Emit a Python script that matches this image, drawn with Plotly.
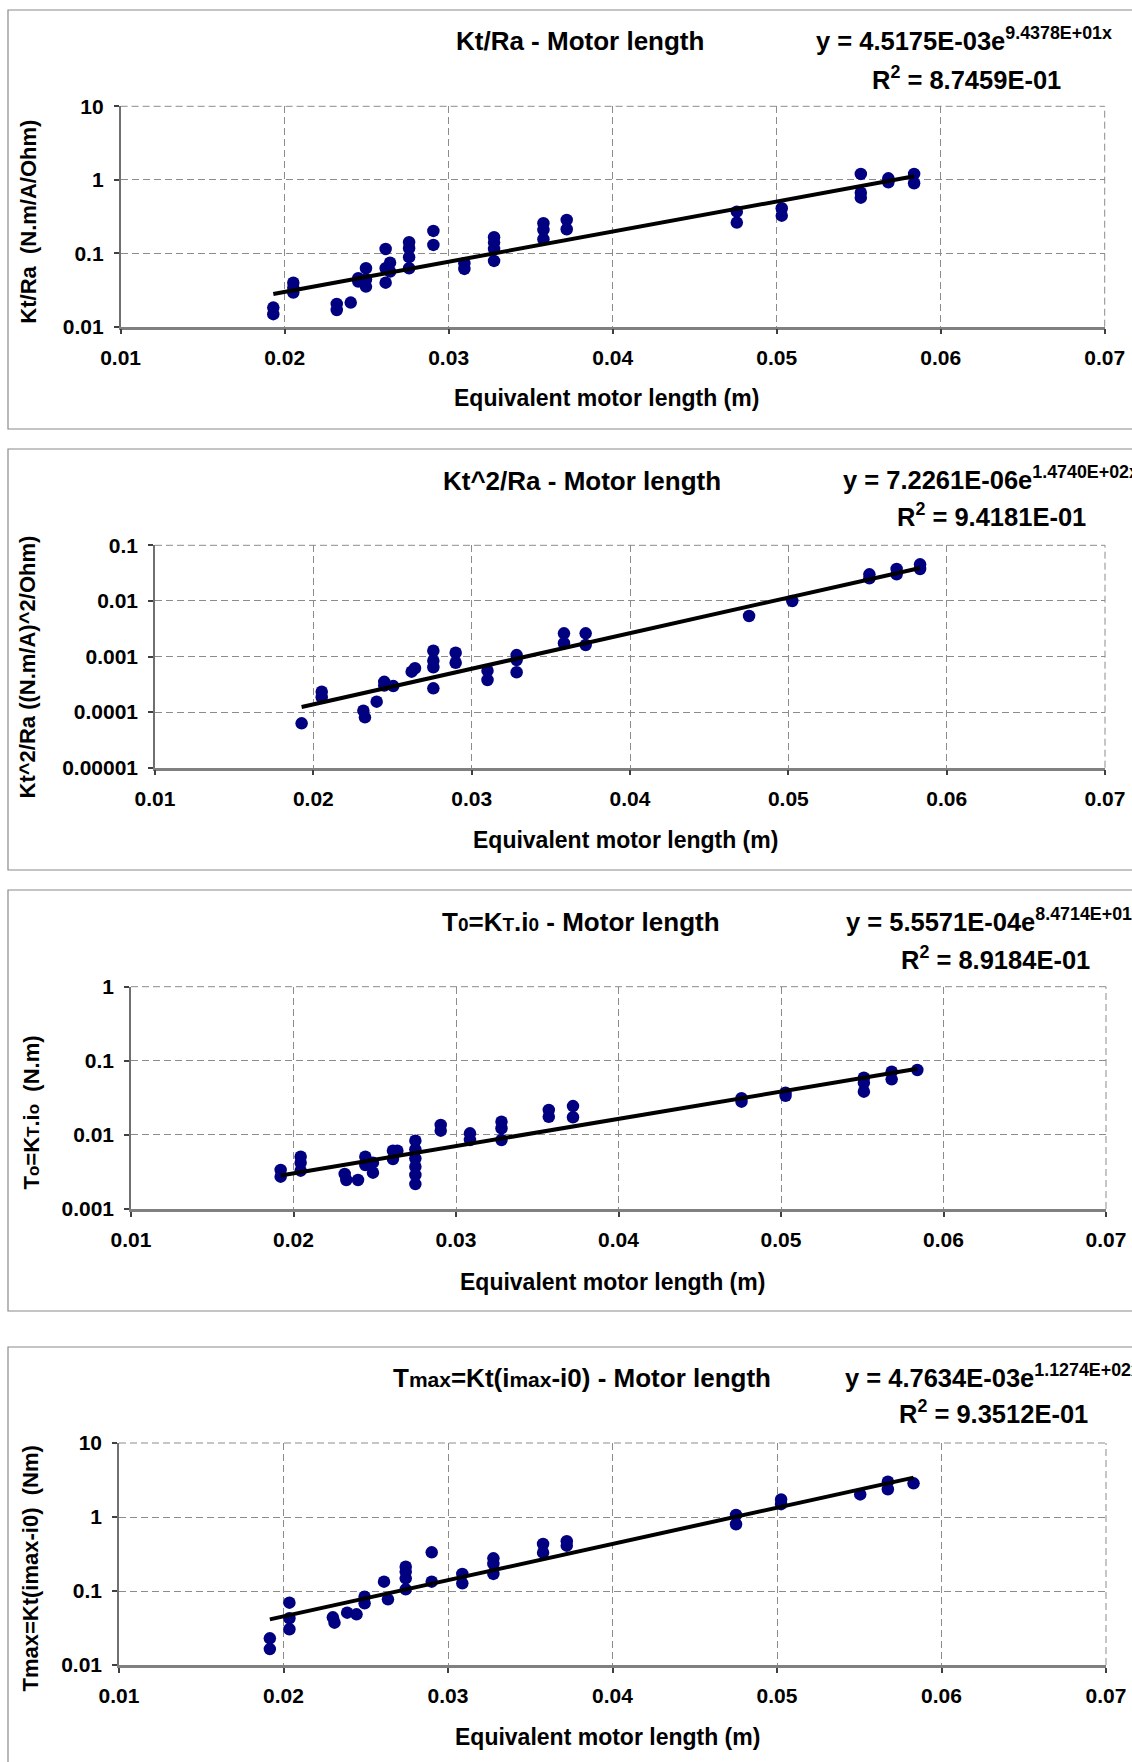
import numpy as np
import plotly.graph_objects as go

W, H = 1132, 1762

# ---------------- data ----------------
x1 = [0.01931, 0.01931, 0.02053, 0.02053, 0.02053, 0.02318, 0.02318, 0.02403,
      0.02449, 0.02449, 0.02496, 0.02496, 0.02496, 0.02616, 0.02616, 0.02616,
      0.02643, 0.02643, 0.02759, 0.02759, 0.02759, 0.02759, 0.02907, 0.02907,
      0.03096, 0.03096, 0.03277, 0.03277, 0.03277, 0.03277, 0.03578, 0.03578,
      0.03578, 0.0372, 0.0372, 0.04757, 0.04757, 0.05031, 0.05031, 0.05513,
      0.05513, 0.05513, 0.05681, 0.05681, 0.05838, 0.05838]
y1 = [0.0182, 0.0148, 0.0398, 0.034, 0.0291, 0.0204, 0.0169, 0.0213,
      0.0457, 0.0411, 0.0625, 0.044, 0.0352, 0.1143, 0.0625, 0.0398,
      0.0745, 0.0562, 0.1412, 0.117, 0.0883, 0.0625, 0.2011, 0.1297,
      0.0731, 0.0611, 0.165, 0.1395, 0.1143, 0.0786, 0.256, 0.2075,
      0.155, 0.2838, 0.212, 0.368, 0.261, 0.409, 0.325, 1.20,
      0.668, 0.570, 1.047, 0.925, 1.20, 0.896]

x2 = [0.01926, 0.02053, 0.02053, 0.02316, 0.02326, 0.0240, 0.02448, 0.02448,
      0.02505, 0.02621, 0.02642, 0.02758, 0.02758, 0.02758, 0.02758, 0.02899,
      0.02899, 0.0310, 0.0310, 0.03284, 0.03284, 0.03284, 0.03583, 0.03583,
      0.0372, 0.0372, 0.04752, 0.05025, 0.05512, 0.05512, 0.05684, 0.05684,
      0.05832, 0.05832]
y2 = [6.29e-5, 2.33e-4, 1.85e-4, 1.06e-4, 8.05e-5, 1.54e-4, 3.5e-4, 3.0e-4,
      2.94e-4, 5.33e-4, 6.14e-4, 1.27e-3, 8.4e-4, 6.4e-4, 2.68e-4, 1.17e-3,
      7.73e-4, 5.56e-4, 3.78e-4, 1.06e-3, 8.65e-4, 5.2e-4, 2.61e-3, 1.73e-3,
      2.61e-3, 1.61e-3, 5.35e-3, 9.95e-3, 3.0e-2, 2.55e-2, 3.75e-2, 3.0e-2,
      4.55e-2, 3.75e-2]

x3 = [0.01921, 0.01921, 0.02044, 0.02044, 0.02044, 0.02315, 0.02325, 0.02397,
      0.02442, 0.02442, 0.02489, 0.02489, 0.02612, 0.02639, 0.02612,
      0.0275, 0.0275, 0.0275, 0.0275, 0.0275, 0.0275,
      0.02906, 0.02906, 0.03086, 0.03086, 0.0328, 0.0328, 0.0328,
      0.03571, 0.03571, 0.0372, 0.0372, 0.04757, 0.04757, 0.05028, 0.05028,
      0.0551, 0.0551, 0.0551, 0.05681, 0.05681, 0.05839]
y3 = [3.36e-3, 2.73e-3, 5.08e-3, 4.22e-3, 3.29e-3, 2.97e-3, 2.46e-3, 2.46e-3,
      5.08e-3, 3.92e-3, 4.22e-3, 3.09e-3, 6.12e-3, 6.12e-3, 4.73e-3,
      8.35e-3, 6.38e-3, 4.83e-3, 3.72e-3, 2.88e-3, 2.17e-3,
      1.36e-2, 1.14e-2, 1.05e-2, 8.53e-3, 1.51e-2, 1.23e-2, 8.53e-3,
      2.17e-2, 1.76e-2, 2.45e-2, 1.73e-2, 3.12e-2, 2.81e-2, 3.71e-2, 3.38e-2,
      5.9e-2, 5.06e-2, 3.83e-2, 7.13e-2, 5.62e-2, 7.52e-2]

x4 = [0.01917, 0.01917, 0.02036, 0.02036, 0.02036, 0.0230, 0.0231, 0.02387,
      0.02444, 0.02493, 0.02493, 0.02611, 0.02635,
      0.02743, 0.02743, 0.02743, 0.02743, 0.02901, 0.02901,
      0.03087, 0.03087, 0.03276, 0.03276, 0.03276, 0.03578, 0.03578,
      0.03722, 0.03722, 0.04751, 0.04751, 0.05025, 0.05025, 0.05506,
      0.05674, 0.05674, 0.0583]
y4 = [2.29e-2, 1.64e-2, 6.95e-2, 4.28e-2, 3.04e-2, 4.41e-2, 3.73e-2, 5.09e-2,
      4.84e-2, 8.37e-2, 6.82e-2, 0.1337, 0.0771,
      0.2133, 0.1824, 0.1483, 0.1054, 0.3334, 0.1337,
      0.170, 0.127, 0.276, 0.232, 0.170, 0.432, 0.330,
      0.47, 0.41, 1.064, 0.797, 1.73, 1.49, 2.02,
      3.0, 2.37, 2.85]

# exponential trend-line coefficients (as printed on the chart)
fit_a = [4.5175e-03, 7.2261e-06, 5.5571e-04, 4.7634e-03]
fit_b = [9.4378e+01, 1.4740e+02, 8.4714e+01, 1.1274e+02]
fit_r2 = ["8.7459E-01", "9.4181E-01", "8.9184E-01", "9.3512E-01"]
fit_a_txt = ["4.5175E-03", "7.2261E-06", "5.5571E-04", "4.7634E-03"]
fit_b_txt = ["9.4378E+01x", "1.4740E+02x", "8.4714E+01x", "1.1274E+02x"]

x_ticks = [0.01, 0.02, 0.03, 0.04, 0.05, 0.06, 0.07]
x_tick_labels = ["0.01", "0.02", "0.03", "0.04", "0.05", "0.06", "0.07"]
y_ticks = [
    [0.01, 0.1, 1, 10],
    [0.00001, 0.0001, 0.001, 0.01, 0.1],
    [0.001, 0.01, 0.1, 1],
    [0.01, 0.1, 1, 10],
]
y_tick_labels = [
    ["0.01", "0.1", "1", "10"],
    ["0.00001", "0.0001", "0.001", "0.01", "0.1"],
    ["0.001", "0.01", "0.1", "1"],
    ["0.01", "0.1", "1", "10"],
]

sm = "<span style='font-size:19px'>{}</span>"
sm4 = "<span style='font-size:21px'>{}</span>"
titles = [
    "Kt/Ra - Motor length",
    "Kt^2/Ra - Motor length",
    "T" + sm.format("0") + "=K" + sm.format("T") + ".i" + sm.format("0") + " - Motor length",
    "T" + sm4.format("max") + "=Kt(i" + sm4.format("max") + "-i0) - Motor length",
]
sm2 = "<span style='font-size:17px'>{}</span>"
y_titles = [
    "Kt/Ra  (N.m/A/Ohm)",
    "Kt^2/Ra ((N.m/A)^2/Ohm)",
    "T" + sm2.format("o") + "=K" + sm2.format("T") + ".i" + sm2.format("o") + "  (N.m)",
    "Tmax=Kt(imax-i0)  (Nm)",
]
x_title = "Equivalent motor length (m)"

xs = [x1, x2, x3, x4]
ys = [y1, y2, y3, y4]

# ---------------- layout geometry (pixels) ----------------
plot_px = [  # left, right, top, bottom
    (120.6, 1104.7, 106.3, 326.7),
    (155.0, 1105.0, 545.3, 767.7),
    (131.0, 1106.0, 986.7, 1209.0),
    (119.0, 1106.0, 1443.0, 1665.0),
]
y_ranges = [[-2, 1], [-5, -1], [-3, 0], [-2, 1]]
box_px = [(8, 10, 429), (8, 449, 870), (8, 890, 1311), (8, 1347, 1800)]
title_pos = [(579.5, 41), (581.7, 481), (580.6, 922), (581.7, 1378)]
xtitle_pos = [(606.5, 398), (625, 840), (612.5, 1282), (607, 1737)]
ytitle_pos = [(29, 221.7), (27, 667.5), (31, 1112.5), (30, 1568.5)]
eq_pos = [(814, 39.5), (841, 478), (844, 920), (843, 1375.5)]
r2_pos = [(870, 78.5), (895, 515.5), (899, 958.5), (897, 1411.5)]


def px(x):
    return x / W


def py(y):
    return 1 - y / H


FONT = "Liberation Sans, Arial, sans-serif"
fig = go.Figure()
shapes = []
annotations = []
layout = {}

for i in range(4):
    sfx = "" if i == 0 else str(i + 1)
    xa, ya = "x" + sfx, "y" + sfx
    l, r, t, b = plot_px[i]

    fig.add_trace(go.Scatter(
        x=xs[i], y=ys[i], mode="markers", xaxis=xa, yaxis=ya,
        marker=dict(color="#000080", size=12.5, line=dict(width=0)),
        showlegend=False, hoverinfo="skip"))

    xmin, xmax = min(xs[i]), max(xs[i])
    fx = [xmin, xmax]
    fy = [fit_a[i] * np.exp(fit_b[i] * v) for v in fx]
    fig.add_trace(go.Scatter(
        x=fx, y=fy, mode="lines", xaxis=xa, yaxis=ya,
        line=dict(color="black", width=4),
        showlegend=False, hoverinfo="skip"))

    layout["xaxis" + sfx] = dict(
        domain=[px(l), px(r)], anchor=ya, range=[0.01, 0.07],
        tickvals=x_ticks, ticktext=x_tick_labels, automargin=False,
        showgrid=True, gridcolor="#8c8c8c", gridwidth=1, griddash="7px,4px",
        showline=True, linecolor="#808080", linewidth=2.5,
        ticks="outside", ticklen=5, tickcolor="#404040", tickwidth=1.5,
        tickfont=dict(family=FONT, size=21, color="black", weight="bold"),
        ticklabelstandoff=5, zeroline=False, fixedrange=True,
    )
    layout["yaxis" + sfx] = dict(
        domain=[py(b), py(t)], anchor=xa, type="log", range=y_ranges[i],
        tickvals=y_ticks[i], ticktext=y_tick_labels[i], automargin=False,
        showgrid=True, gridcolor="#8c8c8c", gridwidth=1, griddash="7px,4px",
        showline=True, linecolor="#707070", linewidth=1.5,
        ticks="outside", ticklen=5, tickcolor="#404040", tickwidth=1.5,
        tickfont=dict(family=FONT, size=21, color="black", weight="bold"),
        ticklabelstandoff=6, zeroline=False, fixedrange=True,
    )

    # top and right dashed border of the plot area
    shapes.append(dict(type="line", xref="paper", yref="paper",
                       x0=px(l), x1=px(r), y0=py(t), y1=py(t),
                       line=dict(color="#8c8c8c", width=1, dash="7px,4px"), layer="below"))
    shapes.append(dict(type="line", xref="paper", yref="paper",
                       x0=px(r), x1=px(r), y0=py(b), y1=py(t),
                       line=dict(color="#8c8c8c", width=1, dash="7px,4px"), layer="below"))

    # panel frame
    bx, bt, bb = box_px[i]
    shapes.append(dict(type="rect", xref="paper", yref="paper",
                       x0=px(bx), x1=px(W + 20), y0=py(bb), y1=py(bt),
                       line=dict(color="#8a8a8a", width=1.2), fillcolor="rgba(0,0,0,0)"))

    annotations.append(dict(
        text=titles[i], x=px(title_pos[i][0]), y=py(title_pos[i][1]),
        xref="paper", yref="paper", showarrow=False, xanchor="center", yanchor="middle",
        font=dict(family=FONT, size=26, color="black", weight="bold")))
    annotations.append(dict(
        text=x_title, x=px(xtitle_pos[i][0]), y=py(xtitle_pos[i][1]),
        xref="paper", yref="paper", showarrow=False, xanchor="center", yanchor="middle",
        font=dict(family=FONT, size=23, color="black", weight="bold")))
    annotations.append(dict(
        text=y_titles[i], x=px(ytitle_pos[i][0]), y=py(ytitle_pos[i][1]),
        xref="paper", yref="paper", showarrow=False, xanchor="center", yanchor="middle",
        textangle=-90,
        font=dict(family=FONT, size=22, color="black", weight="bold")))
    annotations.append(dict(
        text="y = " + fit_a_txt[i] + "e<sup>" + fit_b_txt[i] + "</sup>",
        x=px(eq_pos[i][0]), y=py(eq_pos[i][1]),
        xref="paper", yref="paper", showarrow=False, xanchor="left", yanchor="middle",
        font=dict(family=FONT, size=25.5, color="black", weight="bold")))
    annotations.append(dict(
        text="R<sup>2</sup> = " + fit_r2[i],
        x=px(r2_pos[i][0]), y=py(r2_pos[i][1]),
        xref="paper", yref="paper", showarrow=False, xanchor="left", yanchor="middle",
        font=dict(family=FONT, size=25.5, color="black", weight="bold")))

fig.update_layout(
    width=W, height=H, margin=dict(l=0, r=0, t=0, b=0),
    paper_bgcolor="white", plot_bgcolor="white",
    shapes=shapes, annotations=annotations, showlegend=False,
    **layout,
)

fig.write_html("out.html", config={"displayModeBar": False})
